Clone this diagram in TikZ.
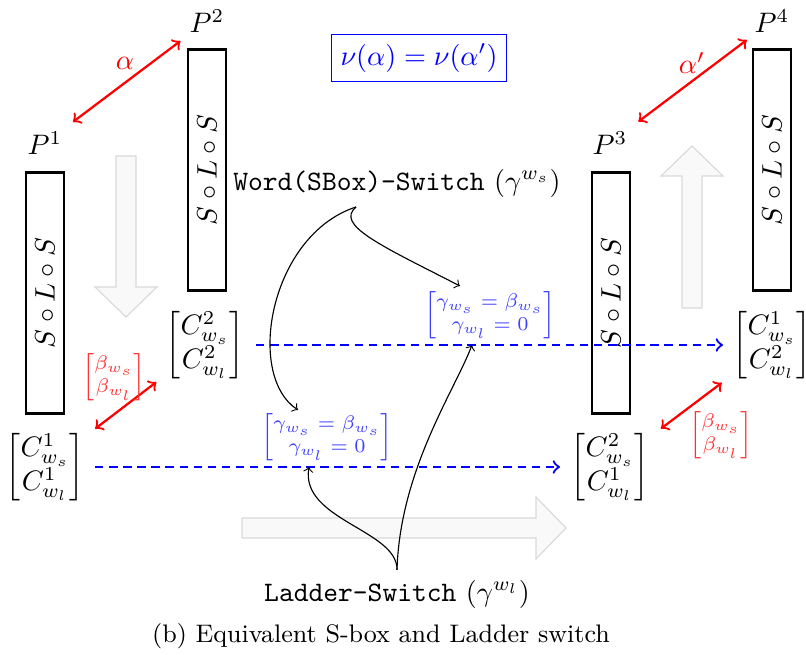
\documentclass[tikz,border=0pt]{standalone}
\usepackage{amsmath}
\usetikzlibrary{calc}
\begin{document}
\begin{tikzpicture}[x=0.355pt,y=-0.355pt,
  sbox/.style={draw,thick,rotate=90,minimum width=85.6pt,minimum height=13.6pt,inner sep=0pt},
  redarr/.style={red,thick,<->},
  bluearr/.style={blue,thick,dash pattern=on 3pt off 2pt,->},
  conn/.style={->},
  bigarrow/.style={draw=gray!30,fill=gray!5},
  betalab/.style={font=\scriptsize,text=red!80},
  gammalab/.style={font=\scriptsize,text=blue!75}
]
\useasboundingbox (0,0) rectangle (806,655);

% background big arrows
\draw[bigarrow] (116,156) -- (136,156) -- (136,287) -- (157,287) -- (126,317) -- (95,287) -- (116,287) -- cycle;
\draw[bigarrow] (682,308) -- (702,308) -- (702,176) -- (723,176) -- (692,146) -- (661,176) -- (682,176) -- cycle;
\draw[bigarrow] (242,518) -- (536,518) -- (536,497) -- (566,528) -- (536,559) -- (536,538) -- (242,538) -- cycle;

% S-L-S boxes
\node[sbox] (S1) at (45,293) {$S\circ L\circ S$};
\node[sbox] (S2) at (207,170) {$S\circ L\circ S$};
\node[sbox] (S3) at (611,293) {$S\circ L\circ S$};
\node[sbox] (S4) at (772,170) {$S\circ L\circ S$};

% labels P
\node (P1) at (45,143) {$P^1$};
\node (P2) at (207,21) {$P^2$};
\node (P3) at (610,143) {$P^3$};
\node (P4) at (772,21) {$P^4$};

% matrices
\node (M1) at (45,467) {$\begin{bmatrix} C^1_{w_s}\\ C^1_{w_l}\end{bmatrix}$};
\node (M2) at (205,345) {$\begin{bmatrix} C^2_{w_s}\\ C^2_{w_l}\end{bmatrix}$};
\node (M3) at (610,467) {$\begin{bmatrix} C^2_{w_s}\\ C^1_{w_l}\end{bmatrix}$};
\node (M4) at (772,345) {$\begin{bmatrix} C^1_{w_s}\\ C^2_{w_l}\end{bmatrix}$};

% top equation
\node[draw=blue,text=blue] (NU) at (419,58) {$\nu(\alpha)=\nu(\alpha')$};

% red arrows
\draw[redarr,shorten <=12.4pt,shorten >=11.8pt] (P1.center) -- (P2.center);
\draw[redarr,shorten <=12.6pt,shorten >=11.2pt] (P3.center) -- (P4.center);
\node[text=red] (A1) at (125,63) {$\alpha$};
\node[text=red] (A2) at (692,63) {$\alpha'$};

\draw[redarr,shorten <=22.4pt,shorten >=21.7pt] (M1.center) -- (M2.center);
\draw[redarr,shorten <=22.6pt,shorten >=22.3pt] (M3.center) -- (M4.center);
\node[betalab] (B1) at (114,377) {$\begin{bmatrix}\beta_{w_s}\\ \beta_{w_l}\end{bmatrix}$};
\node[betalab] (B2) at (721,435) {$\begin{bmatrix}\beta_{w_s}\\ \beta_{w_l}\end{bmatrix}$};

% blue dashed arrows
\draw[bluearr,shorten <=18.1pt,shorten >=17.4pt] (M2.center) -- (M4.center);
\draw[bluearr,shorten <=17.75pt,shorten >=17.75pt] (M1.center) -- (M3.center);
\path (M2.center) -- (M4.center) coordinate[pos=0.4709] (U1);
\path (M1.center) -- (M3.center) coordinate[pos=0.4673] (L1);

\node[gammalab] (G1) at (490,315) {$\begin{bmatrix}\gamma_{w_s}=\beta_{w_s}\\ \gamma_{w_l}=0\end{bmatrix}$};
\node[gammalab] (G2) at (327,437) {$\begin{bmatrix}\gamma_{w_s}=\beta_{w_s}\\ \gamma_{w_l}=0\end{bmatrix}$};

% switch labels
\node (W) at (397,183) {\texttt{Word(SBox)-Switch} $(\gamma^{w_s})$};
\node (L) at (397,594) {\texttt{Ladder-Switch} $(\gamma^{w_l})$};

\coordinate (Ws) at ($(W.center)+(-41,24)$);
\coordinate (G1t) at ($(G1.center)+(-30,-29)$);
\coordinate (G2t) at ($(G2.center)+(-29,-27)$);

\draw[conn] (Ws) .. controls (270,235) and (245,375) .. (G2t);
\draw[conn] (Ws) .. controls (335,225) and (380,245) .. (G1t);
\draw[conn] (L.north) .. controls (400,470) and (455,390) .. (U1);
\draw[conn] (L.north) .. controls (398,530) and (300,520) .. (L1);

% caption
\node[font=\small] (CAP) at (381,636) {(b) Equivalent S-box and Ladder switch};
\end{tikzpicture}
\end{document}
